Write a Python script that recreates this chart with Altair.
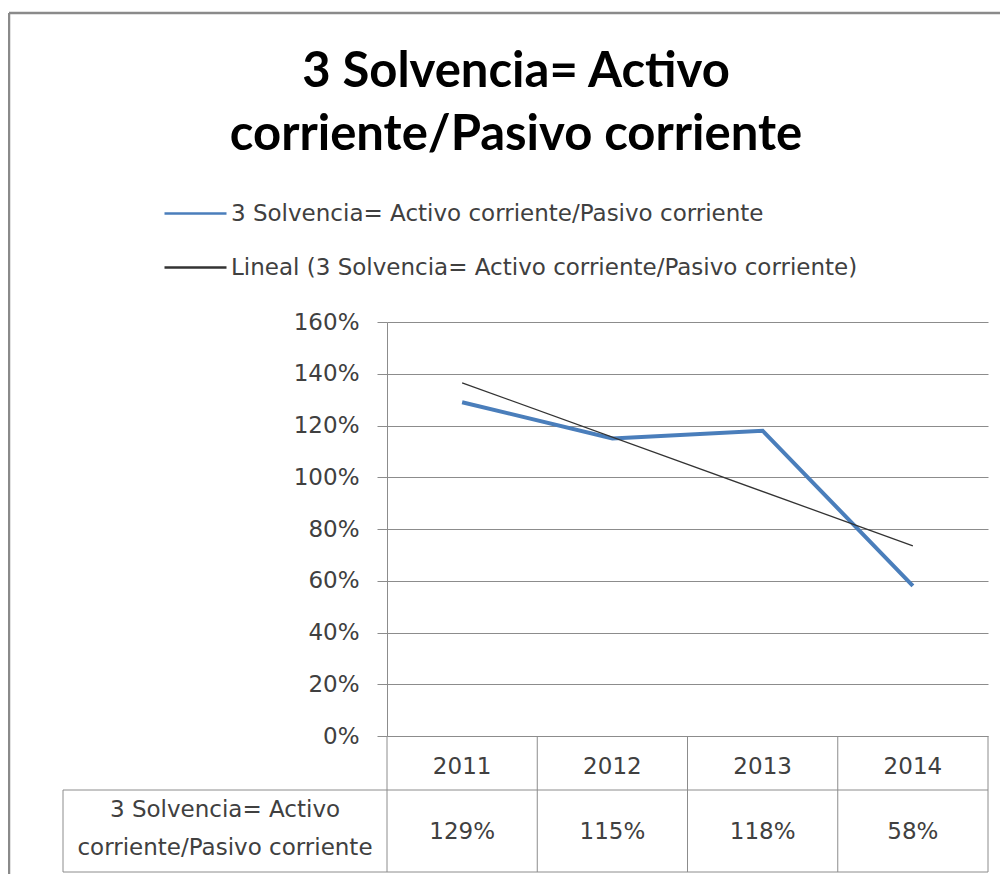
import altair as alt
import pandas as pd

# ---- data ----
years = ["2011", "2012", "2013", "2014"]
year_index = [1, 2, 3, 4]
solvencia = [1.29, 1.15, 1.18, 0.58]
trend_index = [1, 4]
trend_values = [1.365, 0.735]
series_name = "3 Solvencia= Activo corriente/Pasivo corriente"
trend_name = "Lineal (3 Solvencia= Activo corriente/Pasivo corriente)"
row_label = ["3 Solvencia= Activo", "corriente/Pasivo corriente"]
title_lines = ["3 Solvencia= Activo", "corriente/Pasivo corriente"]
y_ticks = [0, 0.2, 0.4, 0.6, 0.8, 1.0, 1.2, 1.4, 1.6]
column_edges = [0.5, 1.5, 2.5, 3.5, 4.5]

df = pd.DataFrame({"idx": year_index, "year": years, "valor": solvencia, "serie": series_name})
trend_df = pd.DataFrame({"idx": trend_index, "valor": trend_values, "serie": trend_name})
edges = pd.DataFrame({"idx": column_edges})
label_df = pd.DataFrame({"label": ["\n".join(row_label)]})
title_df = pd.DataFrame({"title": ["\n".join(title_lines)]})
one = pd.DataFrame({"k": [0]})

# ---- layout (pixels) ----
W, H = 601, 414
HEADER_BOTTOM = 468
TABLE_BOTTOM = 550
LABEL_LEFT = -324
GRID = "#8c8c8c"
FRAME = "#8a8a8a"
TXT = "#404040"
FONT = "DejaVu Sans"
FS = 23

x_scale = alt.Scale(domain=[0.5, 4.5], nice=False, zero=False)


def x_enc():
    return alt.X("idx:Q", scale=x_scale, axis=None)


def y_enc():
    return alt.Y(
        "valor:Q",
        scale=alt.Scale(domain=[0, 1.6], nice=False),
        axis=alt.Axis(
            values=y_ticks, format=".0%", title=None, grid=True, gridColor=GRID,
            domainColor=GRID, tickColor=GRID, tickSize=10, labelPadding=18,
            labelFont=FONT, labelFontSize=FS, labelColor=TXT,
        ),
    )


def color_enc():
    return alt.Color(
        "serie:N",
        scale=alt.Scale(domain=[series_name, trend_name], range=["#4A7EBB", "#333333"]),
        legend=alt.Legend(
            orient="none", legendX=-224, legendY=-141, title=None, direction="vertical",
            symbolType="stroke", symbolSize=3844, symbolStrokeWidth=2.5, labelFont=FONT,
            labelFontSize=FS, labelColor=TXT, labelOffset=3, rowPadding=9, labelLimit=800,
        ),
    )


def hrule(y, x0, x1, color=GRID, width=1.0):
    return alt.Chart(one).mark_rule(color=color, strokeWidth=width).encode(
        x=alt.value(x0), x2=alt.value(x1), y=alt.value(y)
    )


def vrule(x, y0, y1, color=GRID, width=1.0):
    return alt.Chart(one).mark_rule(color=color, strokeWidth=width).encode(
        x=alt.value(x), y=alt.value(y0), y2=alt.value(y1)
    )


main_line = alt.Chart(df).mark_line(strokeWidth=4).encode(x=x_enc(), y=y_enc(), color=color_enc())
trend = alt.Chart(trend_df).mark_line(strokeWidth=1.3).encode(x=x_enc(), y=y_enc(), color=color_enc())

col_rules = alt.Chart(edges).mark_rule(color=GRID, strokeWidth=1).encode(
    x=x_enc(), y=alt.value(H), y2=alt.value(TABLE_BOTTOM)
)
header_text = alt.Chart(df).mark_text(font=FONT, fontSize=FS, color=TXT).encode(
    x=x_enc(), y=alt.value(445), text="year:N"
)
value_text = alt.Chart(df).mark_text(font=FONT, fontSize=FS, color=TXT).encode(
    x=x_enc(), y=alt.value(510), text=alt.Text("valor:Q", format=".0%")
)
row_label_text = alt.Chart(label_df).mark_text(
    font=FONT, fontSize=FS, color=TXT, lineBreak="\n", lineHeight=38, align="center", baseline="middle"
).encode(x=alt.value(LABEL_LEFT / 2), y=alt.value(488), text="label:N")

title_text = alt.Chart(title_df).mark_text(
    font="Lato", fontSize=49, fontWeight="bold", color="#000000", lineBreak="\n",
    lineHeight=63, align="center", baseline="middle"
).encode(x=alt.value(129), y=alt.value(-250), text="title:N")

frame_left = vrule(-378, -309, 700, FRAME, 2.5)
frame_top = hrule(-309, -378, 700, FRAME, 2.5)
row_rule1 = hrule(HEADER_BOTTOM, LABEL_LEFT, W)
row_rule2 = hrule(TABLE_BOTTOM, LABEL_LEFT, W)
label_left = vrule(LABEL_LEFT, HEADER_BOTTOM, TABLE_BOTTOM)

chart = (
    alt.layer(
        main_line, trend, col_rules, header_text, value_text, row_label_text, title_text,
        frame_left, frame_top, row_rule1, row_rule2, label_left,
    )
    .properties(
        width=W,
        height=H,
        autosize=alt.AutoSizeParams(type="none"),
        padding={"left": 379, "top": 314, "right": 12, "bottom": 138},
    )
    .configure_view(strokeWidth=0)
)

chart.save("out.html", embed_options={"renderer": "svg", "actions": False})
